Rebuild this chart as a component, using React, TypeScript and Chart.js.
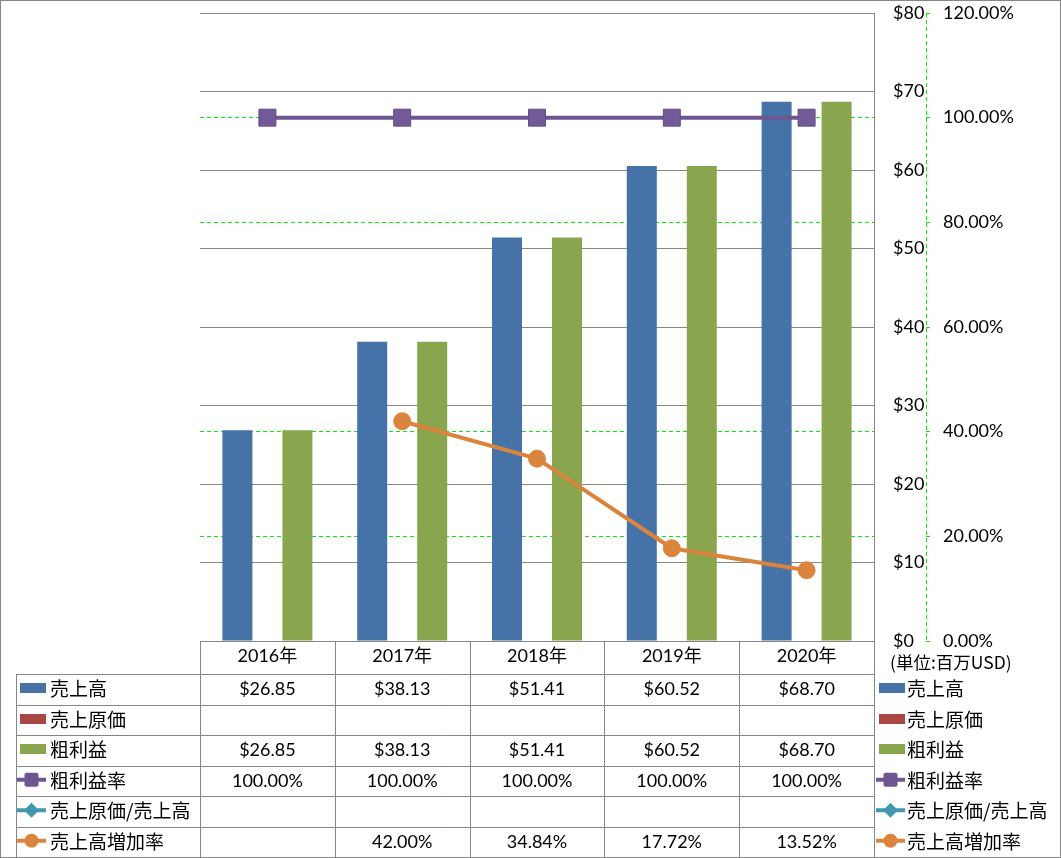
import React, { useEffect, useRef } from 'react';
import { Chart, registerables } from 'chart.js';

Chart.register(...registerables);

const W = 1061;
const H = 858;

// ---- data ----
const categories = ['2016年', '2017年', '2018年', '2019年', '2020年'];
const seriesNames = ['売上高', '売上原価', '粗利益', '粗利益率', '売上原価/売上高', '売上高増加率'];
const sales = [26.85, 38.13, 51.41, 60.52, 68.7];
const costOfSales: (number | null)[] = [null, null, null, null, null];
const grossProfit = [26.85, 38.13, 51.41, 60.52, 68.7];
const grossMargin = [1, 1, 1, 1, 1];
const costRatio: (number | null)[] = [null, null, null, null, null];
const salesGrowth: (number | null)[] = [null, 0.42, 0.3484, 0.1772, 0.1352];
const usdAxis = { min: 0, max: 80, step: 10 };
const pctAxis = { min: 0, max: 1.2, step: 0.2 };
const pctGridHidden = [0, 0.6, 1.2];
const unitLabel = '(単位:百万USD)';

// ---- styles ----
const BLUE = '#4572a7';
const RED = '#aa4643';
const OLIVE = '#89a54e';
const PURPLE = '#6f5693';
const CYAN = '#4198af';
const ORANGE = '#db843d';
const GRAY = '#868686';
const GREEN = '#00f000';
const NUM_FONT = "Lato, 'Noto Sans CJK JP', sans-serif";
const JP_FONT = "'Noto Sans CJK JP', sans-serif";

const fmtUsd = (v: number | null) => (v == null ? '' : '$' + v.toFixed(2));
const fmtPct = (v: number | null) => (v == null ? '' : (v * 100).toFixed(2) + '%');

type RowDef = {
  name: string;
  kind: 'bar' | 'line';
  color: string;
  marker?: 'square' | 'diamond' | 'circle';
  values: (number | null)[];
  fmt: (v: number | null) => string;
};

const tableRows: RowDef[] = [
  { name: seriesNames[0], kind: 'bar', color: BLUE, values: sales, fmt: fmtUsd },
  { name: seriesNames[1], kind: 'bar', color: RED, values: costOfSales, fmt: fmtUsd },
  { name: seriesNames[2], kind: 'bar', color: OLIVE, values: grossProfit, fmt: fmtUsd },
  { name: seriesNames[3], kind: 'line', color: PURPLE, marker: 'square', values: grossMargin, fmt: fmtPct },
  { name: seriesNames[4], kind: 'line', color: CYAN, marker: 'diamond', values: costRatio, fmt: fmtPct },
  { name: seriesNames[5], kind: 'line', color: ORANGE, marker: 'circle', values: salesGrowth, fmt: fmtPct },
];

function drawKey(ctx: CanvasRenderingContext2D, x0: number, cy: number, row: RowDef) {
  ctx.save();
  if (row.kind === 'bar') {
    ctx.fillStyle = row.color;
    ctx.fillRect(x0 + 3, Math.round(cy) - 6, 26, 10);
  } else {
    ctx.strokeStyle = row.color;
    ctx.fillStyle = row.color;
    ctx.lineWidth = 4;
    ctx.beginPath();
    ctx.moveTo(x0, cy - 1);
    ctx.lineTo(x0 + 29, cy - 1);
    ctx.stroke();
    const mx = x0 + 14.5;
    const my = cy - 1;
    ctx.beginPath();
    if (row.marker === 'square') {
      const s = 7;
      const r = 2;
      ctx.moveTo(mx - s + r, my - s);
      ctx.arcTo(mx + s, my - s, mx + s, my + s, r);
      ctx.arcTo(mx + s, my + s, mx - s, my + s, r);
      ctx.arcTo(mx - s, my + s, mx - s, my - s, r);
      ctx.arcTo(mx - s, my - s, mx + s, my - s, r);
      ctx.closePath();
    } else if (row.marker === 'diamond') {
      ctx.moveTo(mx, my - 7.5);
      ctx.lineTo(mx + 7.5, my);
      ctx.lineTo(mx, my + 7.5);
      ctx.lineTo(mx - 7.5, my);
      ctx.closePath();
    } else {
      ctx.arc(mx, my, 7, 0, Math.PI * 2);
    }
    ctx.fill();
  }
  ctx.restore();
}

const tablePlugin = {
  id: 'dataTable',
  afterDraw(chart: any) {
    const { ctx, chartArea } = chart;
    const xs = chart.scales.x;
    const ys = chart.scales.y;
    const y1 = chart.scales.y1;
    const n = categories.length;
    const left = chartArea.left;
    const right = chartArea.right;
    const catW = (right - left) / n;
    const headTop = chartArea.bottom;
    const headBottom = xs.bottom;
    const tableBottom = H - 1;
    const rowH = (tableBottom - headBottom) / tableRows.length;
    const labelColX = 16;
    const px = (v: number) => Math.round(v) + 0.5;

    ctx.save();
    ctx.strokeStyle = GRAY;
    ctx.lineWidth = 1;
    ctx.beginPath();
    for (let i = 0; i <= tableRows.length; i++) {
      const y = px(headBottom + i * rowH);
      ctx.moveTo(labelColX, y);
      ctx.lineTo(px(right), y);
    }
    ctx.moveTo(px(labelColX), px(headBottom));
    ctx.lineTo(px(labelColX), tableBottom);
    for (let i = 0; i <= n; i++) {
      const x = px(left + i * catW);
      ctx.moveTo(x, px(headTop));
      ctx.lineTo(x, tableBottom);
    }
    ctx.stroke();
    ctx.strokeRect(0.5, 0.5, W - 1, H - 1);

    // dashed secondary axis line
    ctx.strokeStyle = GREEN;
    ctx.setLineDash([4, 3]);
    ctx.beginPath();
    const ax = px(y1.left);
    ctx.moveTo(ax, y1.top);
    ctx.lineTo(ax, y1.bottom);
    ctx.stroke();
    ctx.setLineDash([]);

    // cell values
    ctx.fillStyle = '#000';
    ctx.textBaseline = 'middle';
    ctx.textAlign = 'center';
    ctx.font = `18px ${NUM_FONT}`;
    tableRows.forEach((row, r) => {
      const cy = headBottom + rowH * (r + 0.5);
      row.values.forEach((v, i) => {
        const t = row.fmt(v);
        if (t) ctx.fillText(t, xs.getPixelForValue(i), cy);
      });
    });

    // row headers with keys (left) and legend (right)
    ctx.textAlign = 'left';
    ctx.font = `19px ${JP_FONT}`;
    const legendX = right + 2;
    tableRows.forEach((row, r) => {
      const cy = headBottom + rowH * (r + 0.5);
      drawKey(ctx, 17, cy, row);
      ctx.fillStyle = '#000';
      ctx.fillText(row.name, 50, cy);
      drawKey(ctx, legendX, cy, row);
      ctx.fillStyle = '#000';
      ctx.fillText(row.name, legendX + 31, cy);
    });

    // unit label
    ctx.font = `17.5px ${JP_FONT}`;
    ctx.fillText(unitLabel, ys.left + 16, headTop + 21);
    ctx.restore();
  },
};

export default function App() {
  const ref = useRef<HTMLCanvasElement>(null);

  useEffect(() => {
    const pctTickCount = Math.round((pctAxis.max - pctAxis.min) / pctAxis.step) + 1;
    const pctGridColors: string[] = [];
    for (let i = 0; i < pctTickCount; i++) {
      const v = pctAxis.min + i * pctAxis.step;
      pctGridColors.push(pctGridHidden.some((h) => Math.abs(v - h) < 1e-6) ? 'rgba(0,0,0,0)' : GREEN);
    }
    const noPadV = (s: any) => { s.paddingTop = 0; s.paddingBottom = 0; };

    const chart = new Chart(ref.current as HTMLCanvasElement, {
      type: 'bar',
      data: {
        labels: categories,
        datasets: [
          {
            type: 'line',
            label: seriesNames[3],
            data: grossMargin,
            yAxisID: 'y1',
            order: 0,
            borderColor: PURPLE,
            backgroundColor: PURPLE,
            borderWidth: 4,
            pointStyle: 'rect',
            pointRadius: 12,
            pointBorderWidth: 1,
            pointBorderColor: '#634c86',
            pointBackgroundColor: '#735a98',
          } as any,
          {
            type: 'line',
            label: seriesNames[4],
            data: costRatio,
            yAxisID: 'y1',
            order: 0,
            borderColor: CYAN,
            backgroundColor: CYAN,
            borderWidth: 4,
            pointStyle: 'rectRot',
            pointRadius: 9,
          } as any,
          {
            type: 'line',
            label: seriesNames[5],
            data: salesGrowth,
            yAxisID: 'y1',
            order: 0,
            borderColor: ORANGE,
            backgroundColor: ORANGE,
            borderWidth: 4,
            pointStyle: 'circle',
            pointRadius: 8.5,
            pointBorderWidth: 1,
          } as any,
          {
            type: 'bar',
            label: seriesNames[0],
            data: sales,
            yAxisID: 'y',
            order: 1,
            backgroundColor: BLUE,
          },
          {
            type: 'bar',
            label: seriesNames[1],
            data: costOfSales as any,
            yAxisID: 'y',
            order: 1,
            backgroundColor: RED,
          },
          {
            type: 'bar',
            label: seriesNames[2],
            data: grossProfit,
            yAxisID: 'y',
            order: 1,
            backgroundColor: OLIVE,
          },
        ],
      },
      options: {
        responsive: false,
        animation: false,
        devicePixelRatio: 1,
        datasets: {
          bar: { categoryPercentage: 90 / 134.8, barPercentage: 1 },
        },
        layout: { padding: { left: 200, top: 13, right: 40, bottom: H - 674 } },
        plugins: { legend: { display: false }, tooltip: { enabled: false } },
        scales: {
          x: {
            type: 'category',
            offset: true,
            grid: { display: false, drawTicks: false },
            border: { display: true, color: GRAY, width: 1 },
            ticks: { color: '#000', font: { family: NUM_FONT, size: 18 }, padding: 4, maxRotation: 0, autoSkip: false },
            afterFit: (s: any) => { s.height = 33; s.paddingLeft = 0; s.paddingRight = 0; },
          },
          y: {
            type: 'linear',
            position: 'right',
            weight: 0,
            min: usdAxis.min,
            max: usdAxis.max,
            grid: { color: GRAY, lineWidth: 1, drawTicks: false },
            border: { display: true, color: GRAY, width: 1 },
            ticks: {
              stepSize: usdAxis.step,
              color: '#000',
              padding: 19,
              font: { family: NUM_FONT, size: 18 },
              callback: (v: any) => '$' + v,
            },
            afterFit: (s: any) => { s.width = 52; noPadV(s); },
          },
          y1: {
            type: 'linear',
            position: 'right',
            weight: 1,
            min: pctAxis.min,
            max: pctAxis.max,
            grid: {
              drawOnChartArea: true,
              color: pctGridColors,
              tickColor: GREEN,
              tickLength: 4,
              tickBorderDash: [],
              lineWidth: 1,
            },
            border: { display: false, dash: [4, 3] },
            ticks: {
              stepSize: pctAxis.step,
              color: '#000',
              padding: 13,
              font: { family: NUM_FONT, size: 18 },
              callback: (v: any) => (Number(v) * 100).toFixed(2) + '%',
            },
            afterFit: (s: any) => { s.width = 95; noPadV(s); },
          },
        },
      } as any,
      plugins: [tablePlugin],
    });
    return () => chart.destroy();
  }, []);

  return (
    <div style={{ position: 'absolute', left: 0, top: 0, width: W, height: H, background: '#fff' }}>
      <canvas ref={ref} width={W} height={H} style={{ display: 'block', width: W, height: H }} />
    </div>
  );
}
